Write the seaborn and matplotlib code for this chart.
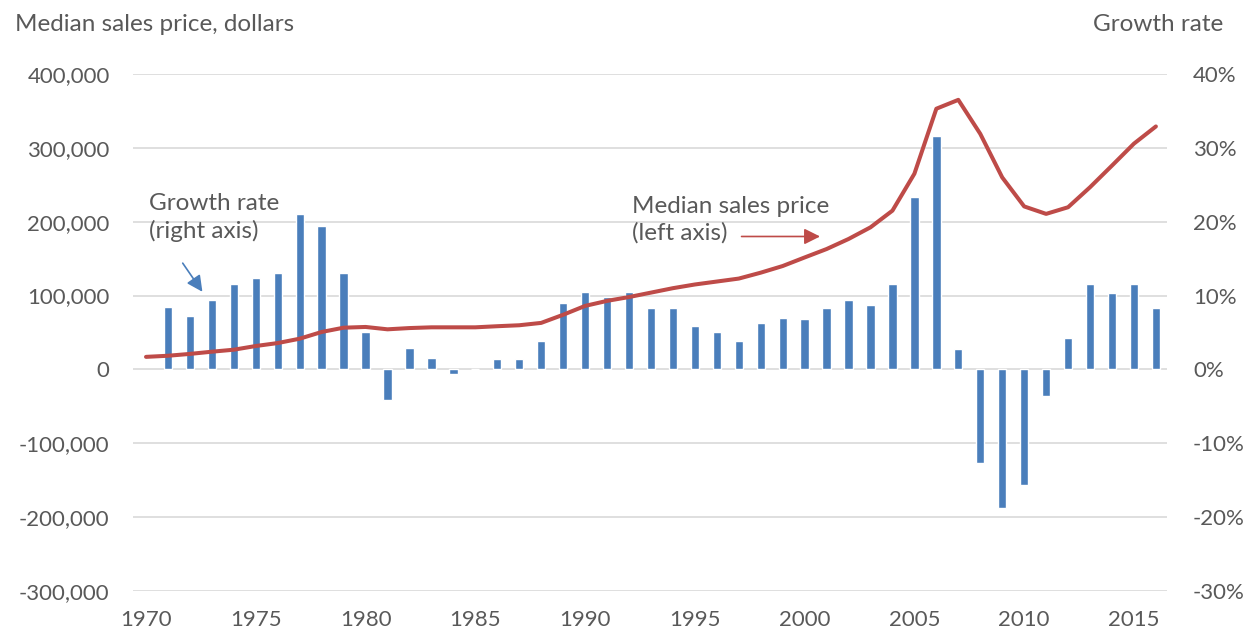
import numpy as np
import pandas as pd
import matplotlib
matplotlib.use("Agg")
import matplotlib.pyplot as plt
import seaborn as sns
from matplotlib.ticker import FuncFormatter

# Median sales price (left axis), 1970-2016
price_years = list(range(1970, 2017))
price = [17000, 18500, 21000, 24000, 26700, 31700, 35700, 41600, 50700, 56500,
         57500, 54300, 56000, 57000, 57000, 57000, 58500, 59800, 63000, 74000,
         86000, 92800, 98000, 104000, 110000, 115000, 119000, 123000, 131000, 140000,
         151600, 163000, 176600, 192400, 215000, 265000, 353000, 365000, 319000, 260000,
         220700, 210600, 219600, 246700, 276000, 305700, 329000]

# Growth rate in percent (right axis), 1971-2016
growth_years = list(range(1971, 2017))
growth = [8.5, 7.2, 9.4, 11.5, 12.4, 13.1, 21.1, 19.4, 13.1, 5.1,
          -4.1, 2.9, 1.6, -0.6, 0.0, 1.4, 1.4, 3.9, 9.0, 10.5,
          9.8, 10.5, 8.3, 8.3, 5.9, 5.0, 3.9, 6.3, 7.0, 6.8,
          8.3, 9.4, 8.7, 11.5, 23.3, 31.6, 2.7, -12.7, -18.8, -15.7,
          -3.6, 4.2, 11.5, 10.3, 11.5, 8.3]

x_ticks = list(range(1970, 2016, 5))
left_ticks = list(range(-300000, 400001, 100000))
right_ticks = list(range(-30, 41, 10))

price_df = pd.DataFrame({"year": price_years, "price": price})
growth_df = pd.DataFrame({"year": growth_years, "growth": growth})

sns.set_theme(style="white")
plt.rcParams["font.family"] = ["Lato", "DejaVu Sans"]

grey = "#595959"
blue = "#4a7ebb"
red = "#be4b48"

fig = plt.figure(figsize=(12.55, 6.38), dpi=100)
ax = fig.add_axes([0.1062, 0.0737, 0.8234, 0.8103])
ax2 = ax.twinx()

# bars on the right axis, line on the left axis drawn on top
sns.barplot(data=growth_df, x="year", y="growth", native_scale=True, width=0.38,
            color=blue, saturation=1, ax=ax2, zorder=3)
sns.lineplot(data=price_df, x="year", y="price", color=red, linewidth=2.9, ax=ax)

ax.set_zorder(ax2.get_zorder() + 1)
ax.patch.set_visible(False)

ax.set_xlim(1969.42, 2016.49)
ax.set_ylim(-300000, 400000)
ax2.set_ylim(-30, 40)
ax.set_xticks(x_ticks)
ax.set_yticks(left_ticks)
ax2.set_yticks(right_ticks)
ax.yaxis.set_major_formatter(FuncFormatter(lambda v, p: f"{int(v):,}"))
ax2.yaxis.set_major_formatter(FuncFormatter(lambda v, p: f"{int(v)}%"))

ax.grid(False)
ax2.grid(True, axis="y", color="#d9d9d9", linewidth=1.2)
ax2.grid(False, axis="x")
ax2.set_axisbelow(True)

for a in (ax, ax2):
    for s in a.spines.values():
        s.set_visible(False)
    a.set_xlabel("")
    a.set_ylabel("")

ax.tick_params(axis="y", length=0, pad=17, labelsize=16, labelcolor=grey)
ax.tick_params(axis="x", length=0, pad=14, labelsize=16, labelcolor=grey)
ax2.tick_params(axis="y", length=0, pad=19, labelsize=16, labelcolor=grey)

fig.text(0.012, 0.962, "Median sales price, dollars", fontsize=17.5, color=grey, va="center")
fig.text(0.975, 0.962, "Growth rate", fontsize=17.5, color=grey, va="center", ha="right")

# annotations
ax2.text(1970.15, 20.6, "Growth rate\n(right axis)", fontsize=17.5, color=grey,
         va="center", ha="left", linespacing=1.3)
ax2.annotate("", xy=(1972.64, 10.2), xytext=(1971.6, 14.7),
             arrowprops=dict(arrowstyle="-|>", color=blue, lw=1.2, mutation_scale=24))

ax.text(1992.13, 203000, "Median sales price\n(left axis)", fontsize=17.5, color=grey,
        va="center", ha="left", linespacing=1.3)
ax.annotate("", xy=(2000.83, 180000), xytext=(1997.0, 180000),
            arrowprops=dict(arrowstyle="-|>", color=red, lw=1.2, mutation_scale=24))

fig.savefig("out.png", dpi=100)
